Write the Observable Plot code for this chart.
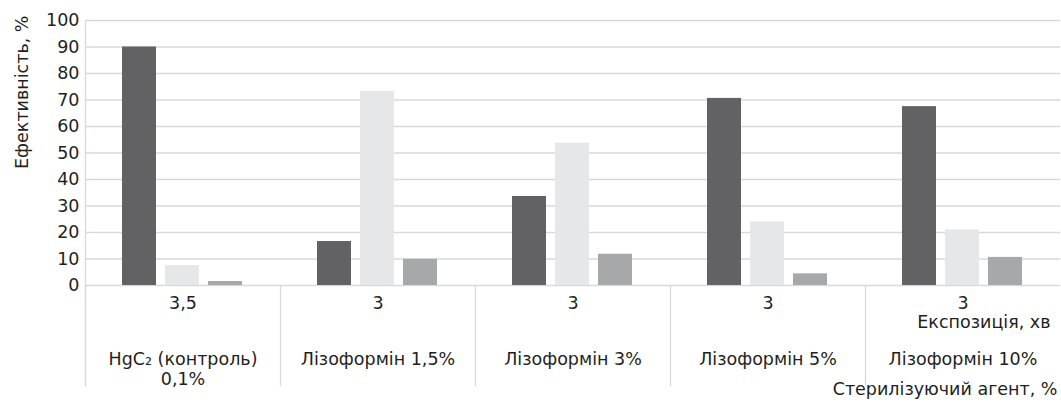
<!DOCTYPE html>
<html>
<head>
<meta charset="utf-8">
<script src="https://cdn.jsdelivr.net/npm/d3@7"></script>
<script src="https://cdn.jsdelivr.net/npm/@observablehq/plot@0.6"></script>
<style>
  html, body { margin: 0; padding: 0; background: #ffffff; }
  #chart svg { display: block; }
</style>
</head>
<body>
<div id="chart"></div>
<script>
// Categories (sterilizing agent) and exposure (min)
const categories = [
  "HgC₂ (контроль)\n0,1%",
  "Лізоформін 1,5%",
  "Лізоформін 3%",
  "Лізоформін 5%",
  "Лізоформін 10%"
];
const exposure = ["3,5", "3", "3", "3", "3"];

// Series (no legend in the original)
const seriesNames = ["Ряд 1", "Ряд 2", "Ряд 3"];
const series1 = [90, 16.6, 33.6, 70.6, 67.5];
const series2 = [7.5, 73.2, 53.7, 24.0, 21.0];
const series3 = [1.5, 9.9, 11.8, 4.4, 10.6];

const yTicks = [0, 10, 20, 30, 40, 50, 60, 70, 80, 90, 100];
const yLabel = "Ефективність, %";
const exposureLabel = "Експозиція, хв";
const agentLabel = "Стерилізуючий агент, %";

const allSeries = [series1, series2, series3];
const rows = categories.flatMap((c, i) =>
  allSeries.map((s, j) => ({category: c, series: seriesNames[j], value: s[i]}))
);

const gridColor = "#d9d9d9";
const textColor = "#231f20";
const font = "DejaVu Sans, sans-serif";
const fs = 17.5;
const txt = {fill: textColor, fontSize: fs, fontFamily: font};

const chart = Plot.plot({
  width: 1061,
  height: 403,
  marginLeft: 83,
  marginRight: 0,
  marginTop: 20,
  marginBottom: 118,
  style: {fontFamily: font, fontSize: "17.5px", color: textColor, background: "#ffffff"},
  fx: {domain: categories, padding: 0, axis: null},
  x: {domain: seriesNames, paddingInner: 0.2, paddingOuter: 0.85, axis: null},
  y: {domain: [0, 100]},
  color: {domain: seriesNames, range: ["#626264", "#e6e7e8", "#a7a8aa"]},
  marks: [
    Plot.gridY(yTicks, {stroke: gridColor, strokeOpacity: 1, strokeWidth: 1.3}),
    Plot.axisY(yTicks, {tickSize: 0, tickPadding: 6, label: null, ...txt}),
    Plot.frame({anchor: "left", facetAnchor: "left", insetBottom: -100, stroke: gridColor, strokeWidth: 1.3}),
    Plot.frame({anchor: "left", insetTop: 265, insetBottom: -100, stroke: gridColor, strokeWidth: 1.3}),
    Plot.barY(rows, {fx: "category", x: "series", y: "value", fill: "series"}),
    Plot.text(categories, {fx: d => d, text: (d, i) => exposure[i], frameAnchor: "bottom", dy: 23, ...txt}),
    Plot.text(categories, {fx: d => d, text: d => d, frameAnchor: "bottom", lineAnchor: "top", dy: 66, lineHeight: 1.12, ...txt}),
    Plot.text([yLabel], {fx: () => categories[0], text: d => d, frameAnchor: "top-left", rotate: -90, textAnchor: "end", dx: -70, dy: -5, ...txt}),
    Plot.text([exposureLabel], {fx: () => categories[categories.length - 1], text: d => d, frameAnchor: "bottom-right", textAnchor: "end", dx: -10, dy: 42, ...txt}),
    Plot.text([agentLabel], {fx: () => categories[categories.length - 1], text: d => d, frameAnchor: "bottom-right", textAnchor: "end", dx: -3, dy: 109, ...txt})
  ]
});

document.getElementById("chart").appendChild(chart);
</script>
</body>
</html>
